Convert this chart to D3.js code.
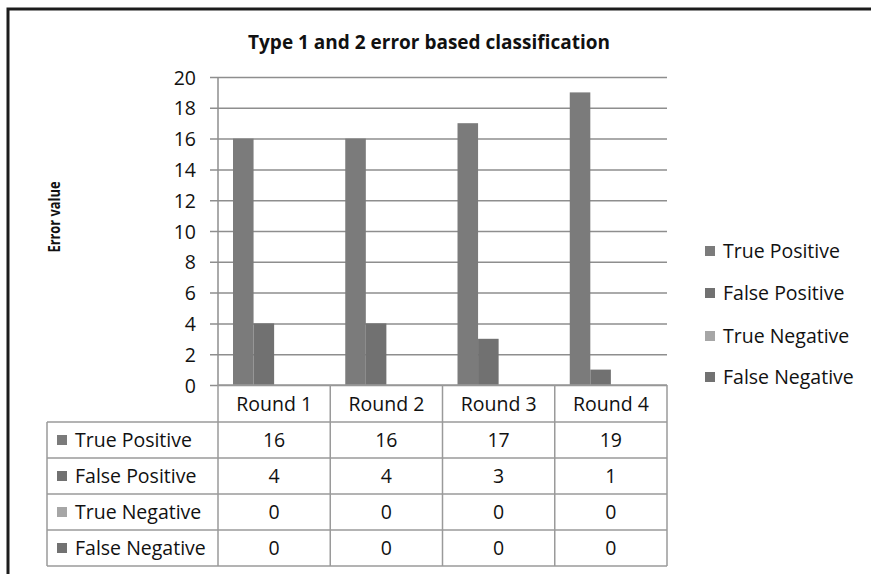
<!DOCTYPE html>
<html><head><meta charset="utf-8">
<script src="https://cdn.jsdelivr.net/npm/d3@7"></script>
<style>body{margin:0;background:#fff}svg{display:block}</style>
</head><body>
<svg id="c" width="871" height="574"></svg>
<script>
const categories = ["Round 1","Round 2","Round 3","Round 4"];
const seriesNames = ["True Positive","False Positive","True Negative","False Negative"];
const truePositive = [16,16,17,19];
const falsePositive = [4,4,3,1];
const trueNegative = [0,0,0,0];
const falseNegative = [0,0,0,0];
const yTicks = [0,2,4,6,8,10,12,14,16,18,20];
const colors = ["#7b7b7b","#717171","#a6a6a6","#727272"];
const seriesValues = [truePositive,falsePositive,trueNegative,falseNegative];

const F = "'Open Sans', Lato, sans-serif";
const FS = 19.5;
const svg = d3.select("#c");
const L = 218, R = 667, T = 77, B = 385;
const x = d3.scaleBand().domain(categories).range([L,R]);
const xs = d3.scaleBand().domain(seriesNames).range([0,x.bandwidth()]).paddingInner(0).paddingOuter(0.73);
const y = d3.scaleLinear().domain([0,20]).range([B,T]);

// outer frame
svg.append("path").attr("d","M8,574V9H871").attr("fill","none").attr("stroke","#1c1c1c").attr("stroke-width",3);

// title
svg.append("text").attr("x",429).attr("y",49).attr("text-anchor","middle")
  .attr("font-family",F).attr("font-weight","bold").attr("font-size",19).attr("fill","#111")
  .text("Type 1 and 2 error based classification");

// y axis title
svg.append("text").attr("transform","translate(60,217) rotate(-90)").attr("text-anchor","middle")
  .attr("font-family",F).attr("font-weight","bold").attr("font-size",16.5).attr("fill","#111")
  .attr("textLength",71).attr("lengthAdjust","spacingAndGlyphs")
  .text("Error value");

// gridlines + y axis
const yAxis = d3.axisLeft(y).tickValues(yTicks).tickSize(R-210).tickPadding(14).tickFormat(d3.format("d"));
const gy = svg.append("g").attr("transform",`translate(${R},0)`).call(yAxis);
gy.select(".domain").remove();
gy.selectAll(".tick line").attr("stroke","#8e8e8e").attr("stroke-width",1.5);
gy.selectAll(".tick text").attr("font-family",F).attr("font-size",FS).attr("fill","#111").attr("dy","0.36em");
svg.append("line").attr("x1",L).attr("x2",L).attr("y1",T).attr("y2",B).attr("stroke","#8e8e8e").attr("stroke-width",1.5);

// bars
seriesNames.forEach((s,si)=>{
  svg.append("g").selectAll("rect").data(seriesValues[si]).join("rect")
    .attr("x",(d,i)=>x(categories[i])+xs(s))
    .attr("width",xs.bandwidth())
    .attr("y",d=>y(d)).attr("height",d=>B-y(d))
    .attr("fill",colors[si]);
});

// data table
const tableLeft = 47;
const rowY = [385,422,458,494,530,566];
const tcol = "#9a9a9a";
const tg = svg.append("g");
tg.append("line").attr("x1",L).attr("x2",R).attr("y1",rowY[0]).attr("y2",rowY[0]).attr("stroke",tcol).attr("stroke-width",1.5);
for(let r=1;r<rowY.length;r++){
  tg.append("line").attr("x1",tableLeft).attr("x2",R).attr("y1",rowY[r]).attr("y2",rowY[r]).attr("stroke",tcol).attr("stroke-width",1.5);
}
tg.append("line").attr("x1",tableLeft).attr("x2",tableLeft).attr("y1",rowY[1]).attr("y2",rowY[5]).attr("stroke",tcol).attr("stroke-width",1.5);
categories.forEach(c=>{
  tg.append("line").attr("x1",x(c)).attr("x2",x(c)).attr("y1",rowY[0]).attr("y2",rowY[5]).attr("stroke",tcol).attr("stroke-width",1.5);
});
tg.append("line").attr("x1",R).attr("x2",R).attr("y1",rowY[0]).attr("y2",rowY[5]).attr("stroke",tcol).attr("stroke-width",1.5);
categories.forEach(c=>{
  tg.append("text").attr("x",x(c)+x.bandwidth()/2).attr("y",(rowY[0]+rowY[1])/2).attr("dy","0.36em")
    .attr("text-anchor","middle").attr("font-family",F).attr("font-size",FS).attr("fill","#111").text(c);
});
seriesNames.forEach((s,si)=>{
  const cy = (rowY[si+1]+rowY[si+2])/2;
  tg.append("rect").attr("x",57).attr("y",cy-5).attr("width",10).attr("height",10).attr("fill",colors[si]);
  tg.append("text").attr("x",75).attr("y",cy).attr("dy","0.36em").attr("font-family",F).attr("font-size",FS).attr("fill","#111").text(s);
  seriesValues[si].forEach((v,i)=>{
    tg.append("text").attr("x",x(categories[i])+x.bandwidth()/2).attr("y",cy).attr("dy","0.36em")
      .attr("text-anchor","middle").attr("font-family",F).attr("font-size",FS).attr("fill","#111").text(v);
  });
});

// legend
const legY = [251,293,336,377];
seriesNames.forEach((s,si)=>{
  svg.append("rect").attr("x",705).attr("y",legY[si]-5).attr("width",10).attr("height",10).attr("fill",colors[si]);
  svg.append("text").attr("x",723).attr("y",legY[si]).attr("dy","0.36em").attr("font-family",F).attr("font-size",FS).attr("fill","#111").text(s);
});
</script>
</body></html>
